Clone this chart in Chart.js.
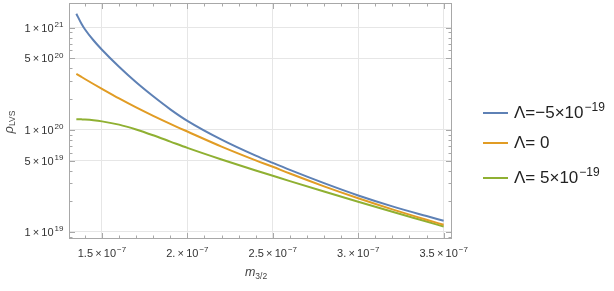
<!DOCTYPE html>
<html>
<head>
<meta charset="utf-8">
<script src="https://cdn.jsdelivr.net/npm/chart.js@4/dist/chart.umd.min.js"></script>
<style>
  html, body { margin: 0; padding: 0; background: #fff; }
</style>
</head>
<body>
<canvas id="rhoChart" width="614" height="291"></canvas>
<script>
// gravitino mass m_3/2 (x axis)
const mass = [1.35e-7, 1.38e-7, 1.40e-7, 1.45e-7, 1.50e-7, 1.60e-7, 1.70e-7, 1.80e-7, 1.90e-7, 2.00e-7,
              2.20e-7, 2.40e-7, 2.50e-7, 2.60e-7, 2.80e-7, 3.00e-7, 3.20e-7, 3.40e-7, 3.50e-7];

// rho_LVS for the three Lambda values
const rhoNeg = [1.372e21, 1.094e21, 9.67e20, 7.54e20, 6.09e20, 4.146e20, 2.922e20, 2.130e20, 1.589e20, 1.225e20,
                8.015e19, 5.586e19, 4.748e19, 4.054e19, 3.009e19, 2.279e19, 1.782e19, 1.432e19, 1.288e19];
const rhoZero = [3.540e20, 3.298e20, 3.148e20, 2.812e20, 2.519e20, 2.030e20, 1.658e20, 1.370e20, 1.144e20, 9.63e19,
                 6.86e19, 5.03e19, 4.35e19, 3.734e19, 2.800e19, 2.142e19, 1.667e19, 1.318e19, 1.177e19];
const rhoPos = [1.273e20, 1.267e20, 1.262e20, 1.242e20, 1.211e20, 1.125e20, 1.009e20, 8.851e19, 7.680e19, 6.661e19,
                5.127e19, 3.999e19, 3.548e19, 3.148e19, 2.490e19, 1.978e19, 1.578e19, 1.265e19, 1.132e19];

const seriesNames = ['Λ=−5×10', 'Λ= 0', 'Λ= 5×10'];
const seriesExp = ['−19', '', '−19'];
const colors = ['#5e81b5', '#e19c24', '#8fb032'];

// tick labels (thin spaces around the times sign)
const xTicks = [1.5e-7, 2.0e-7, 2.5e-7, 3.0e-7, 3.5e-7];
const xTickBase = ['1.5\u2009×\u200910', '2.\u2009×\u200910', '2.5\u2009×\u200910', '3.\u2009×\u200910', '3.5\u2009×\u200910'];
const xTickExp = ['−7', '−7', '−7', '−7', '−7'];
const yTicks = [1e19, 5e19, 1e20, 5e20, 1e21];
const yTickBase = ['1\u2009×\u200910', '5\u2009×\u200910', '1\u2009×\u200910', '5\u2009×\u200910', '1\u2009×\u200910'];
const yTickExp = ['19', '19', '20', '20', '21'];

const FONT = '"Liberation Sans", Arial, sans-serif';
const FRAME = '#a8a8a8';

function toPoints(ys) {
    return mass.map((m, i) => ({ x: m, y: ys[i] }));
}

// text with a raised exponent
function supText(ctx, base, exp, x, y, align, size, supSize, rise) {
    ctx.font = size + 'px ' + FONT;
    const wb = ctx.measureText(base).width;
    ctx.font = supSize + 'px ' + FONT;
    const gap = exp ? 1 : 0;
    const we = exp ? ctx.measureText(exp).width : 0;
    const total = wb + gap + we;
    let x0 = x;
    if (align === 'right') x0 = x - total;
    if (align === 'center') x0 = x - total / 2;
    ctx.textAlign = 'left';
    ctx.textBaseline = 'alphabetic';
    ctx.font = size + 'px ' + FONT;
    ctx.fillText(base, x0, y);
    if (exp) {
        ctx.font = supSize + 'px ' + FONT;
        ctx.fillText(exp, x0 + wb + gap, y - rise);
    }
}

const framePlugin = {
    id: 'framePlugin',
    afterDraw(chart) {
        const ctx = chart.ctx;
        const a = chart.chartArea;
        const xs = chart.scales.x;
        const ys = chart.scales.y;
        ctx.save();

        // frame
        ctx.strokeStyle = FRAME;
        ctx.lineWidth = 1;
        const L = Math.round(a.left) + 0.5, R = Math.round(a.right) - 0.5;
        const T = Math.round(a.top) + 0.5, B = Math.round(a.bottom) - 0.5;
        ctx.strokeRect(L, T, R - L, B - T);

        // inward ticks on all four sides
        ctx.beginPath();
        for (let k = 14; k <= 35; k++) {
            const v = k * 1e-8;
            const len = k % 5 === 0 ? 5.5 : 3;
            const p = Math.round(xs.getPixelForValue(v)) + 0.5;
            ctx.moveTo(p, B); ctx.lineTo(p, B - len);
            ctx.moveTo(p, T); ctx.lineTo(p, T + len);
        }
        for (let e = 18; e <= 21; e++) {
            for (let m = 1; m <= 9; m++) {
                const v = m * Math.pow(10, e);
                if (v < ys.min || v > ys.max) continue;
                const major = yTicks.some(t => Math.abs(t - v) / v < 1e-6);
                const len = major ? 5.5 : 3;
                const p = Math.round(ys.getPixelForValue(v)) + 0.5;
                ctx.moveTo(L, p); ctx.lineTo(L + len, p);
                ctx.moveTo(R, p); ctx.lineTo(R - len, p);
            }
        }
        ctx.stroke();

        // tick labels
        ctx.fillStyle = '#333';
        xTicks.forEach((v, i) => {
            supText(ctx, xTickBase[i], xTickExp[i], xs.getPixelForValue(v), 256.5, 'center', 11, 8, 4.5);
        });
        yTicks.forEach((v, i) => {
            supText(ctx, yTickBase[i], yTickExp[i], 63.5, ys.getPixelForValue(v) + 4, 'right', 11, 8, 4.5);
        });

        // axis titles
        ctx.fillStyle = '#444';
        ctx.font = 'italic 12.5px ' + FONT;
        const mw = ctx.measureText('m').width;
        ctx.font = '8.5px ' + FONT;
        const sw = ctx.measureText('3/2').width;
        const mx = 256 - (mw + sw) / 2;
        ctx.font = 'italic 12.5px ' + FONT;
        ctx.fillText('m', mx, 276);
        ctx.font = '8.5px ' + FONT;
        ctx.fillText('3/2', mx + mw, 279);

        ctx.save();
        ctx.translate(13, 122);
        ctx.rotate(-Math.PI / 2);
        ctx.font = 'italic 13px ' + FONT;
        const rw = ctx.measureText('ρ').width;
        ctx.font = '8.5px ' + FONT;
        const lw = ctx.measureText('LVS').width;
        const rx = -(rw + lw) / 2;
        ctx.font = 'italic 13px ' + FONT;
        ctx.fillText('ρ', rx, 0);
        ctx.font = '8.5px ' + FONT;
        ctx.fillText('LVS', rx + rw, 1.5);
        ctx.restore();

        // legend
        const legendY = [113, 143, 178];
        seriesNames.forEach((name, i) => {
            ctx.strokeStyle = colors[i];
            ctx.lineWidth = 2;
            ctx.beginPath();
            ctx.moveTo(483, legendY[i]);
            ctx.lineTo(508, legendY[i]);
            ctx.stroke();
            ctx.fillStyle = '#222';
            supText(ctx, name, seriesExp[i], 514, legendY[i] + 5, 'left', 17, 12, 7);
        });

        ctx.restore();
    }
};

const ctx = document.getElementById('rhoChart');
new Chart(ctx, {
    type: 'line',
    data: {
        datasets: [
            { label: seriesNames[0], data: toPoints(rhoNeg), borderColor: colors[0] },
            { label: seriesNames[1], data: toPoints(rhoZero), borderColor: colors[1] },
            { label: seriesNames[2], data: toPoints(rhoPos), borderColor: colors[2] }
        ].map(d => Object.assign(d, {
            borderWidth: 2,
            pointRadius: 0,
            fill: false,
            cubicInterpolationMode: 'monotone'
        }))
    },
    options: {
        responsive: false,
        animation: false,
        devicePixelRatio: 1,
        layout: { padding: { left: 0, right: 162, top: 3, bottom: 0 } },
        plugins: {
            legend: { display: false },
            tooltip: { enabled: false }
        },
        scales: {
            x: {
                type: 'linear',
                min: 1.307e-7,
                max: 3.549e-7,
                afterBuildTicks: s => { s.ticks = xTicks.map(v => ({ value: v })); },
                afterFit: s => { s.height = 52; },
                ticks: { display: false },
                grid: { color: '#e6e6e6', drawTicks: false },
                border: { display: false }
            },
            y: {
                type: 'logarithmic',
                min: 8.54e18,
                max: 1.746e21,
                afterBuildTicks: s => { s.ticks = yTicks.map(v => ({ value: v })); },
                afterFit: s => { s.width = 69; },
                ticks: { display: false },
                grid: { color: '#e6e6e6', drawTicks: false },
                border: { display: false }
            }
        }
    },
    plugins: [framePlugin]
});
</script>
</body>
</html>
